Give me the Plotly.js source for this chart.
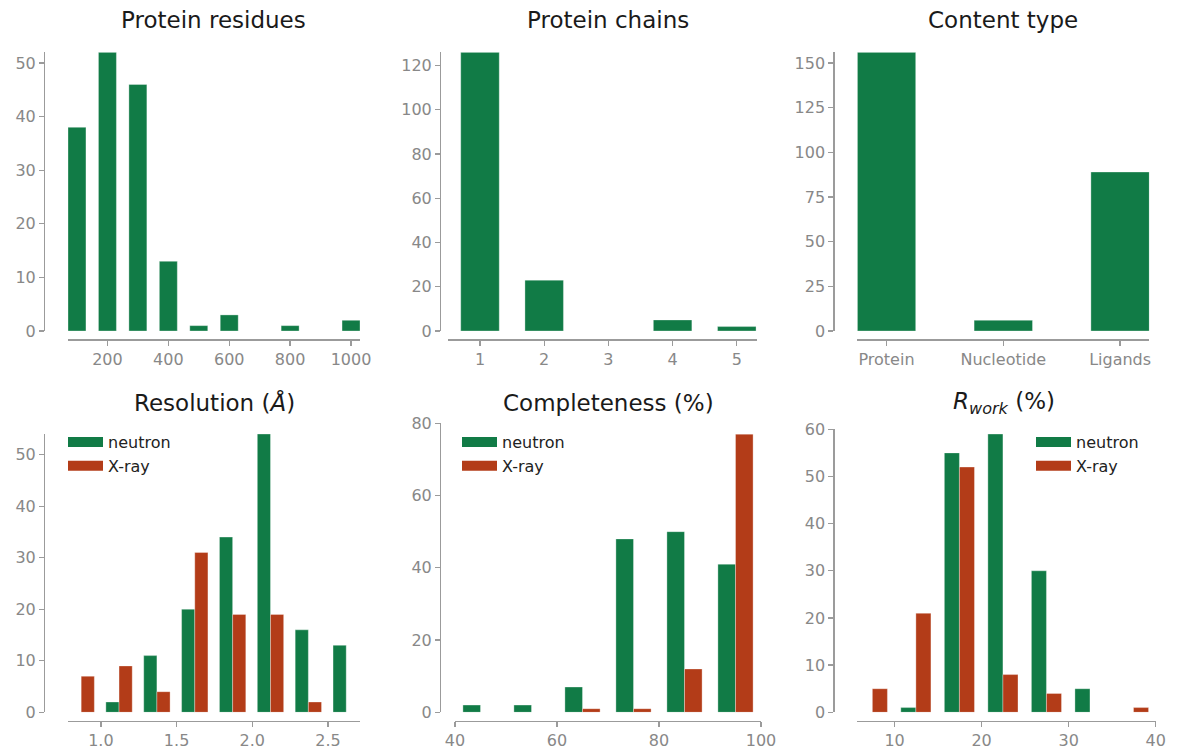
<!DOCTYPE html>
<html>
<head>
<meta charset="utf-8">
<script src="https://cdn.plot.ly/plotly-3.0.1.min.js"></script>
<style>
  html, body { margin: 0; padding: 0; background: #ffffff; }
  #chart { width: 1180px; height: 756px; }
</style>
</head>
<body>
<div id="chart"></div>
<script>
// ---------------- data ----------------
const residueBins = [100, 200, 300, 400, 500, 600, 700, 800, 900, 1000];
const residueCounts = [38, 52, 46, 13, 1, 3, 0, 1, 0, 2];

const chainBins = [1, 2, 3, 4, 5];
const chainCounts = [126, 23, 0, 5, 2];

const contentTypes = ['Protein', 'Nucleotide', 'Ligands'];
const contentCounts = [156, 6, 89];

const resolutionBins = [0.87, 1.12, 1.37, 1.62, 1.87, 2.12, 2.37, 2.62];
const resolutionNeutron = [0, 2, 11, 20, 34, 54, 16, 13];
const resolutionXray = [7, 9, 4, 31, 19, 19, 2, 0];

const completenessBins = [45, 55, 65, 75, 85, 95];
const completenessNeutron = [2, 2, 7, 48, 50, 41];
const completenessXray = [0, 0, 1, 1, 12, 77];

const rworkBins = [7.45, 12.45, 17.45, 22.45, 27.45, 32.45, 37.45];
const rworkNeutron = [0, 1, 55, 59, 30, 5, 0];
const rworkXray = [5, 21, 52, 8, 4, 0, 1];

const seriesNames = ['neutron', 'X-ray'];
const titles = ['Protein residues', 'Protein chains', 'Content type',
  'Resolution (<i>Å</i>)', 'Completeness (%)', '<i>R</i><sub><i>work</i></sub> (%)'];

// ---------------- styling ----------------
const W = 1180, H = 756;
const GREEN = '#117b46';
const RED = '#b33c18';
const EDGE = { color: 'rgba(255,255,255,0.55)', width: 0.6 };
const FONT = 'DejaVu Sans, Liberation Sans, sans-serif';
const px = v => v / W;
const py = v => 1 - v / H;

const axisBase = {
  showgrid: false, zeroline: false, showline: true,
  linecolor: '#9b9b9b', linewidth: 1.3,
  ticks: 'outside', ticklen: 5, tickwidth: 1.3, tickcolor: '#9b9b9b',
  tickfont: { family: FONT, size: 16, color: '#888888' },
  fixedrange: true
};
function xax(d0, d1, pos, extra) {
  return Object.assign({}, axisBase, { domain: [px(d0), px(d1)], anchor: 'free', position: py(pos), side: 'bottom' }, extra);
}
function yax(top, bottom, pos, extra) {
  return Object.assign({}, axisBase, { domain: [py(bottom), py(top)], anchor: 'free', position: px(pos), side: 'left' }, extra);
}

// ---------------- traces ----------------
const traces = [];
traces.push({ type: 'bar', x: residueBins, y: residueCounts, width: 59, marker: { color: GREEN, line: EDGE },
  xaxis: 'x', yaxis: 'y', showlegend: false });
traces.push({ type: 'bar', x: chainBins, y: chainCounts, width: 0.6, marker: { color: GREEN, line: EDGE },
  xaxis: 'x2', yaxis: 'y2', showlegend: false });
traces.push({ type: 'bar', x: contentTypes, y: contentCounts, width: 0.5, marker: { color: GREEN, line: EDGE },
  xaxis: 'x3', yaxis: 'y3', showlegend: false });

function pair(bins, neu, xr, w, xa, ya, leg) {
  const colors = [GREEN, RED];
  [neu, xr].forEach((vals, i) => {
    const grp = leg + '-' + seriesNames[i];
    traces.push({ type: 'bar', name: seriesNames[i], x: bins, y: vals, width: w, offset: i === 0 ? -w : 0,
      marker: { color: colors[i], line: EDGE }, xaxis: xa, yaxis: ya,
      legendgroup: grp, showlegend: false });
  });
  // legend entries (wide patch swatches, matplotlib style)
  [0, 1].forEach(i => {
    const grp = leg + '-' + seriesNames[i];
    traces.push({ type: 'scatter', mode: 'lines', name: seriesNames[i], x: [null], y: [null],
      line: { color: colors[i], width: 11 }, xaxis: xa, yaxis: ya,
      legend: leg, legendgroup: grp, showlegend: true, hoverinfo: 'skip' });
  });
}
pair(resolutionBins, resolutionNeutron, resolutionXray, 0.087, 'x4', 'y4', 'legend');
pair(completenessBins, completenessNeutron, completenessXray, 3.45, 'x5', 'y5', 'legend2');
pair(rworkBins, rworkNeutron, rworkXray, 1.73, 'x6', 'y6', 'legend3');

// ---------------- layout ----------------
const legendBase = {
  font: { family: FONT, size: 16, color: '#222222' },
  bgcolor: 'rgba(0,0,0,0)', borderwidth: 0, itemwidth: 35,
  xanchor: 'left', yanchor: 'top', tracegroupgap: 0, traceorder: 'normal'
};

function title(text, cx, cy) {
  return { text: text, xref: 'paper', yref: 'paper', x: px(cx), y: py(cy),
    xanchor: 'center', yanchor: 'middle', showarrow: false,
    font: { family: FONT, size: 23, color: '#1a1a1a' } };
}

const layout = {
  width: W, height: H,
  margin: { l: 0, r: 0, t: 0, b: 0 },
  paper_bgcolor: '#ffffff', plot_bgcolor: '#ffffff',
  barmode: 'overlay', bargap: 0,
  font: { family: FONT },
  xaxis:  xax(68, 360, 339.3, { range: [70.5, 1029.5], tickvals: [200, 400, 600, 800, 1000] }),
  yaxis:  yax(52.3, 331, 44, { range: [0, 52], tickvals: [0, 10, 20, 30, 40, 50] }),
  xaxis2: xax(447.7, 756.7, 339.3, { range: [0.497, 5.31], tickvals: [1, 2, 3, 4, 5] }),
  yaxis2: yax(52.3, 331, 440, { range: [0, 126], tickvals: [0, 20, 40, 60, 80, 100, 120] }),
  xaxis3: xax(857.3, 1149.3, 339.3, { type: 'category', range: [-0.25, 2.25] }),
  yaxis3: yax(52.3, 331, 833.3, { range: [0, 156], tickvals: [0, 25, 50, 75, 100, 125, 150] }),
  xaxis4: xax(68, 360, 720.7, { range: [0.783, 2.711], tickvals: [1.0, 1.5, 2.0, 2.5], tickformat: '.1f' }),
  yaxis4: yax(434, 712.3, 44, { range: [0, 54], tickvals: [0, 10, 20, 30, 40, 50] }),
  xaxis5: xax(455, 761, 720.7, { range: [40, 100], tickvals: [40, 60, 80, 100] }),
  yaxis5: yax(423.3, 712.3, 440, { range: [0, 80], tickvals: [0, 20, 40, 60, 80] }),
  xaxis6: xax(857.3, 1155.7, 720.7, { range: [5.72, 40], tickvals: [10, 20, 30, 40] }),
  yaxis6: yax(429.3, 712.3, 833.3, { range: [0, 60], tickvals: [0, 10, 20, 30, 40, 50, 60] }),
  legend:  Object.assign({}, legendBase, { x: px(63), y: py(425) }),
  legend2: Object.assign({}, legendBase, { x: px(457), y: py(425) }),
  legend3: Object.assign({}, legendBase, { x: px(1031), y: py(425) }),
  annotations: [
    title(titles[0], 213.5, 20),
    title(titles[1], 608, 20),
    title(titles[2], 1003, 20),
    title(titles[3], 215, 403),
    title(titles[4], 608, 403),
    title(titles[5], 1003.5, 403)
  ]
};

Plotly.newPlot('chart', traces, layout, { displayModeBar: false, staticPlot: true });
</script>
</body>
</html>
